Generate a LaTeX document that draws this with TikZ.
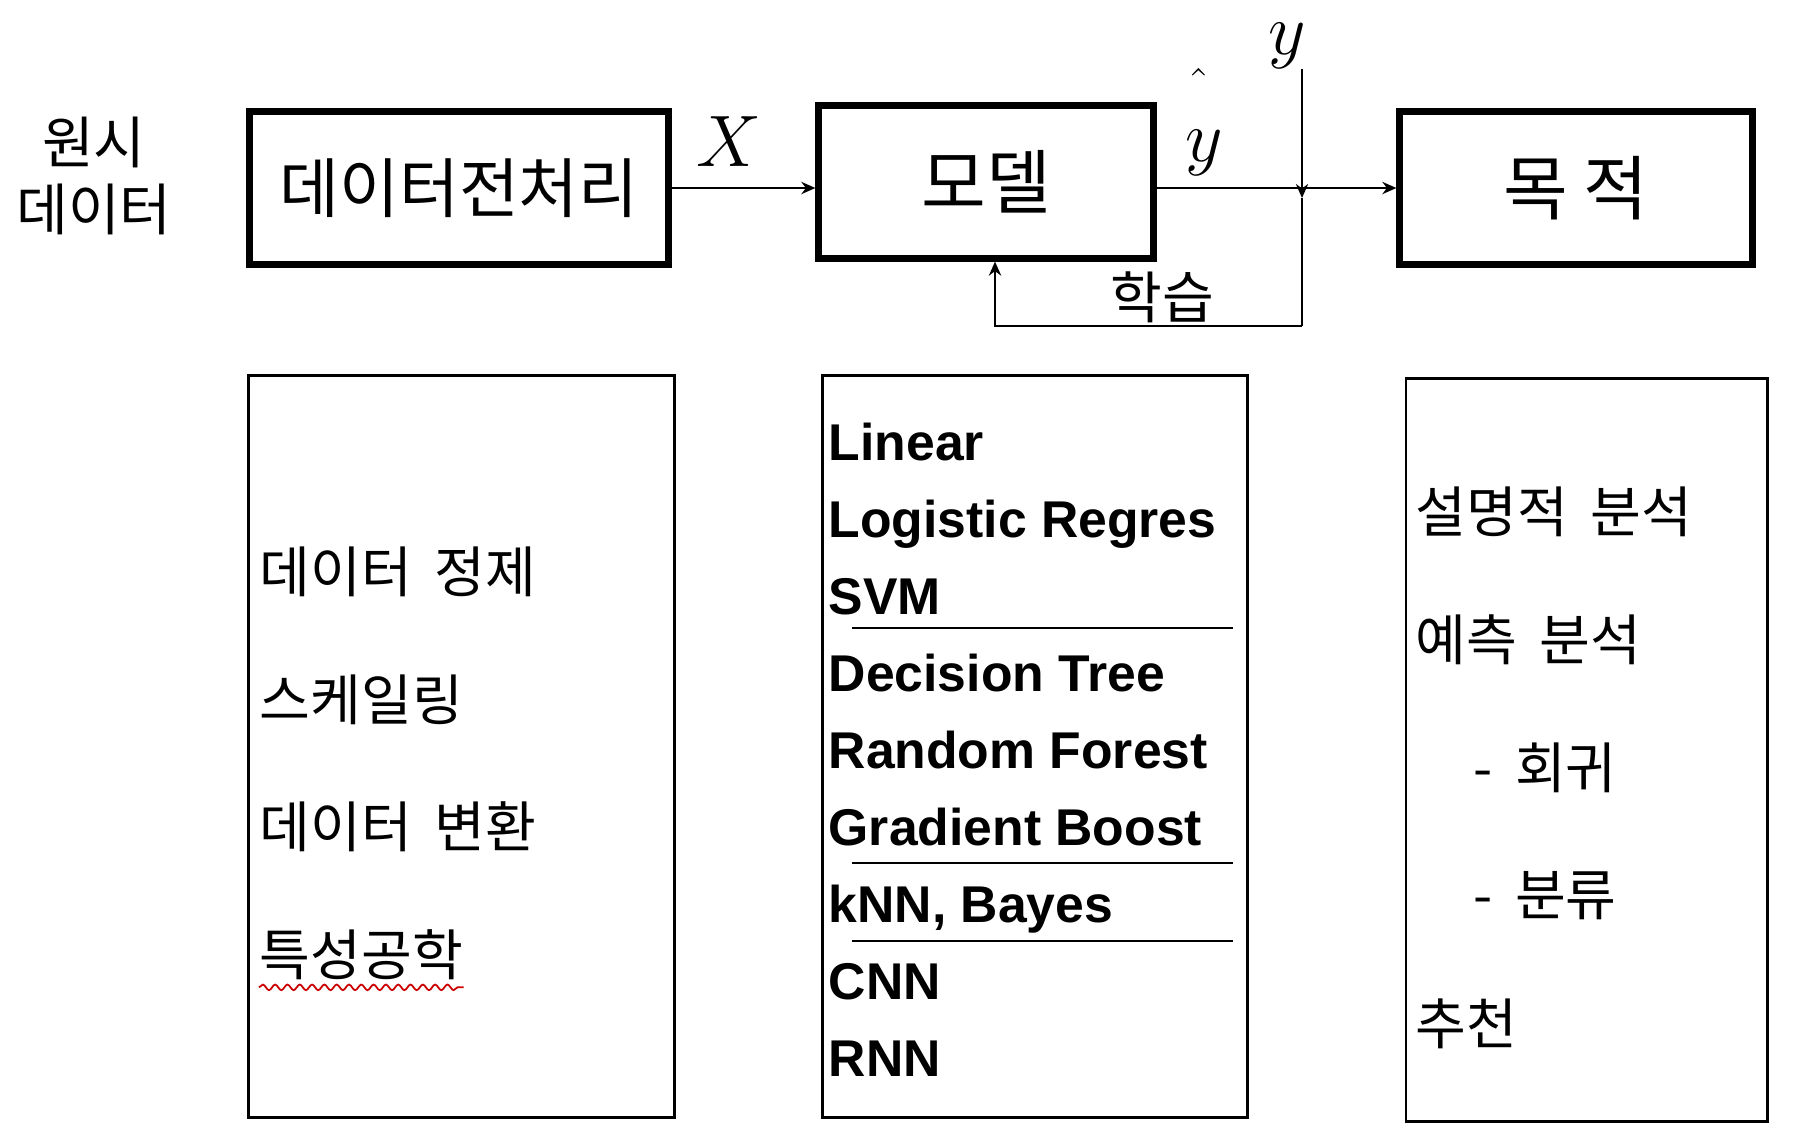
\documentclass[tikz,border=0pt]{standalone}
\usepackage{fontspec}
\setmainfont{Noto Sans CJK KR}[WordSpace=1.8]
\newfontfamily\krplain{Noto Sans CJK KR}
\newfontfamily\arialfont{Liberation Sans}
\usetikzlibrary{arrows.meta,decorations.pathmorphing}

\tikzset{
  bigbox/.style={draw, line width=2pt, inner sep=0pt},
  listbox/.style={draw, line width=0.8pt, inner sep=0pt},
  item/.style={anchor=west, inner sep=0pt, font=\fontsize{15.7}{18}\selectfont},
  mitem/.style={anchor=base west, inner sep=0pt, font=\arialfont\bfseries\fontsize{14.7}{18}\selectfont},
  lbl/.style={inner sep=0pt},
  arr/.style={-{Stealth[length=4pt,width=3.5pt]}, line width=0.6pt},
}

\begin{document}
\begin{tikzpicture}[x=0.01cm, y=-0.01cm]
\useasboundingbox (0,0) rectangle (1804,1144);

% top row
\node[align=center, font=\fontsize{16}{19}\selectfont] (raw) at (94,176) {원시\\데이터};
\node[bigbox, minimum width=4.19cm, minimum height=1.53cm, font=\fontsize{18.5}{22}\selectfont] (prep) at (459,188) {데이터전처리};
\node[bigbox, minimum width=3.34cm, minimum height=1.52cm, font=\fontsize{20}{24}\selectfont] (model) at (986,182) {모델};
\node[bigbox, minimum width=3.52cm, minimum height=1.53cm, font=\krplain\fontsize{20}{24}\selectfont] (goal) at (1576,188) {목 적};

\draw[arr] (prep.east) -- (prep.east -| model.west);
\draw[arr] (goal.west -| model.east) -- (goal.west);

% target y and feedback
\coordinate (ytop) at (1302,69);
\coordinate (ymid) at (1302,198);
\coordinate (ybot) at (1302,326);
\coordinate (fb) at (995,326);
\draw[arr] (ytop) -- (ymid);
\draw[line width=0.6pt] (ymid) -- (ybot);
\draw[arr] (ybot) -- (fb) -- (fb |- model.south);

% labels
\node[lbl] (xin) at (729,142) {\fontsize{20}{24}\selectfont$X$};
\node[lbl] (yout) at (1287,46) {\fontsize{22}{26}\selectfont$y$};
\node[lbl] (yhat) at (1204,153) {\fontsize{22}{26}\selectfont$y$};
\node[lbl] (hat) at (1199,86) {\fontsize{14}{14}\selectfont$\hat{}$};
\node[lbl] (learn) at (1162,297) {\fontsize{16}{19}\selectfont 학습};

% lower boxes
\node[listbox, minimum width=4.25cm, minimum height=7.41cm] (prepbox) at (461.5,746.5) {};
\node[listbox, minimum width=4.24cm, minimum height=7.41cm] (modelbox) at (1035,746.5) {};
\node[listbox, minimum width=3.61cm, minimum height=7.42cm] (goalbox) at (1586.5,750) {};

\foreach \txt [count=\i] in {데이터 정제, 스케일링, 데이터 변환, 특성공학}
  \node[item] (prep\i) at (259,{444.5+127.5*\i}) {\txt};
\draw[red!80!black, line width=0.5pt, decorate, decoration={snake, amplitude=0.8pt, segment length=3.5pt}]
  ([yshift=-2pt]prep4.south west) -- ([yshift=-2pt]prep4.south east);

\foreach \txt [count=\i] in {Linear, Logistic Regres, SVM, Decision Tree, Random Forest, Gradient Boost, {kNN, Bayes}, CNN, RNN}
  \node[mitem] (alg\i) at (828,{383+77*\i}) {\txt};
\foreach \sy in {628,863,941}
  \draw[line width=0.6pt] (852,\sy) -- (1233,\sy);

\foreach \txt/\tx [count=\i] in {설명적 분석/1415, 예측 분석/1415, - 회귀/1473, - 분류/1473, 추천/1415}
  \node[item] (goal\i) at (\tx,{384+128*\i}) {\txt};
\end{tikzpicture}
\end{document}
